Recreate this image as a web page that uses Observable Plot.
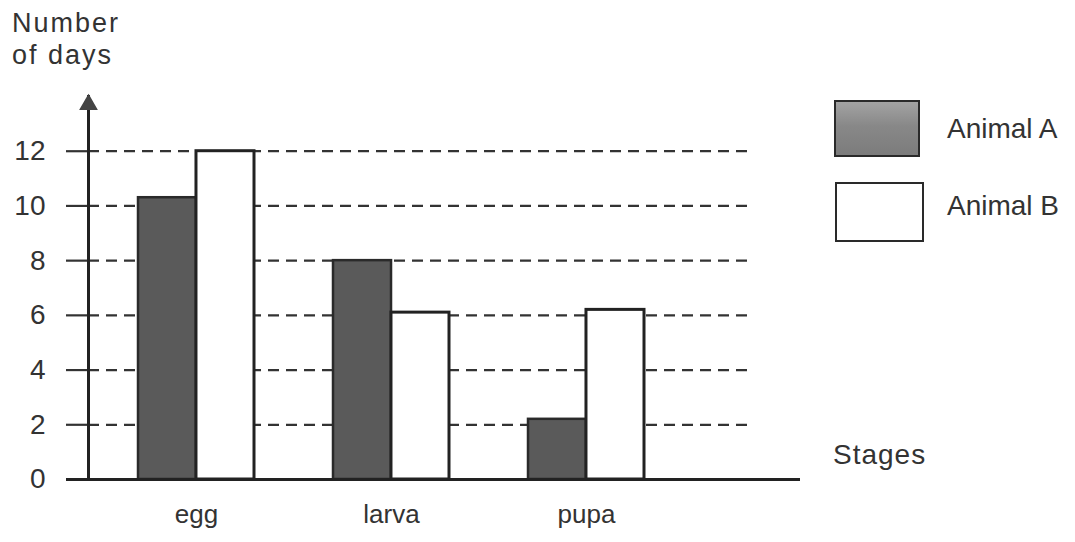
<!DOCTYPE html>
<html>
<head>
<meta charset="utf-8">
<script src="https://cdn.jsdelivr.net/npm/d3@7"></script>
<script src="https://cdn.jsdelivr.net/npm/@observablehq/plot@0.6"></script>
<style>
  body { margin: 0; background: #fff; }
  #chart { position: relative; width: 1075px; height: 542px; font-family: "Liberation Sans", Arial, sans-serif; color: #333; }
  #chart svg { position: absolute; left: 0; top: 0; }
  .lbl { position: absolute; white-space: nowrap; line-height: 1; color: #333; }
  .swatch { position: absolute; box-sizing: border-box; border: 2.5px solid #2a2a2a; }
</style>
</head>
<body>
<div id="chart"></div>
<script>
// Duration of each life stage, in days
const stages = ["egg", "larva", "pupa"];
const animalA = [10.3, 8, 2.2];
const animalB = [12, 6.1, 6.2];
const seriesNames = ["Animal A", "Animal B"];
const yTicks = [0, 2, 4, 6, 8, 10, 12];

const rows = stages.map((stage, i) => ({stage, A: animalA[i], B: animalB[i]}));

const W = 1075, H = 542;
const margin = {top: 96, right: 275, bottom: 63, left: 88};
const xOpts = {paddingInner: 0.407, paddingOuter: 0.524, align: 0.24};

// Each stage band holds two touching bars, one per animal
const band = d3.scaleBand(stages, [margin.left, W - margin.right])
  .paddingInner(xOpts.paddingInner).paddingOuter(xOpts.paddingOuter).align(xOpts.align);
const half = band.bandwidth() / 2;

const plot = Plot.plot({
  width: W,
  height: H,
  marginTop: margin.top,
  marginRight: margin.right,
  marginBottom: margin.bottom,
  marginLeft: margin.left,
  style: {fontFamily: "Liberation Sans, Arial, sans-serif", color: "#333", background: "transparent"},
  x: {domain: stages, ...xOpts, label: null},
  y: {domain: [0, 14], label: null},
  marks: [
    // dashed guide lines at each tick
    Plot.ruleY(yTicks.filter(d => d > 0), {stroke: "#333", strokeWidth: 2.2, strokeDasharray: "11,7", insetRight: 48}),
    Plot.axisY({ticks: yTicks, tickSize: 22, tickPadding: 21, fontSize: 28, strokeWidth: 2.2, label: null}),
    Plot.axisX({tickSize: 0, tickPadding: 25, fontSize: 26, label: null}),
    Plot.barY(rows, {x: "stage", y: "A", fill: "#5a5a5a", stroke: "#2a2a2a", strokeWidth: 2.5, insetRight: half}),
    Plot.barY(rows, {x: "stage", y: "B", fill: "#fff", stroke: "#222", strokeWidth: 3, insetLeft: half}),
    // axis lines and arrowhead
    Plot.ruleY([0], {stroke: "#222", strokeWidth: 3, insetLeft: -22}),
    Plot.frame({anchor: "left", stroke: "#222", strokeWidth: 3}),
    Plot.dot([0], {frameAnchor: "top-left", symbol: "triangle", r: 6, dy: 8, fill: "#444", stroke: "#444"})
  ]
});

const chart = document.getElementById("chart");
chart.appendChild(plot);

function label(text, css) {
  const d = document.createElement("div");
  d.className = "lbl";
  d.innerHTML = text;
  Object.assign(d.style, css);
  chart.appendChild(d);
  return d;
}

label("Number<br>of days", {left: "12px", top: "7px", fontSize: "27px", lineHeight: "32px", letterSpacing: "2px"});
label("Stages", {left: "833px", top: "441px", fontSize: "28px", letterSpacing: "1px"});

// legend
const swatchStyles = [
  {left: "834px", top: "100px", width: "86px", height: "57px", background: "linear-gradient(#a3a3a3, #888 45%, #7c7c7c)"},
  {left: "835px", top: "182px", width: "89px", height: "60px", background: "#fff"}
];
const labelTops = ["115px", "192px"];
seriesNames.forEach((name, i) => {
  const s = document.createElement("div");
  s.className = "swatch";
  Object.assign(s.style, swatchStyles[i]);
  chart.appendChild(s);
  label(name, {left: "947px", top: labelTops[i], fontSize: "28px"});
});
</script>
</body>
</html>
